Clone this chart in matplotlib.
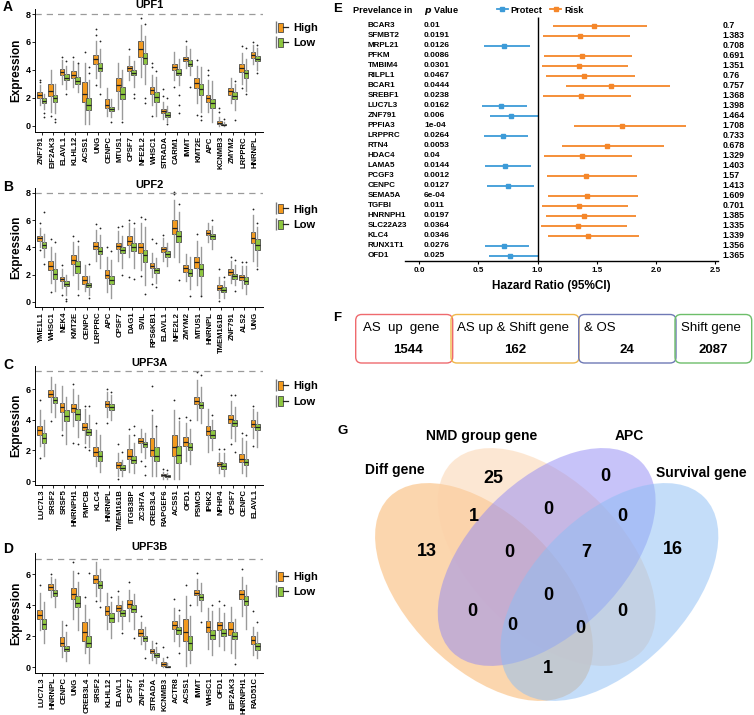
import numpy as np
import matplotlib
matplotlib.use("Agg")
import matplotlib.pyplot as plt
from matplotlib.patches import Patch, Ellipse, FancyBboxPatch
from matplotlib.lines import Line2D
from matplotlib.legend_handler import HandlerTuple

plt.rcParams['font.family'] = ['Liberation Sans', 'DejaVu Sans']

# ---------------- panel A-D data: (whislo, q1, med, q3, whishi) ----------------
genes_A = ["ZNF791", "EIF2AK3", "ELAVL1", "KLHL12", "ACSS1", "UNG", "CENPC", "MTUS1", "CPSF7", "NFE2L2",
           "WHSC1", "STRADA", "CARM1", "IMMT", "KMT2E", "APC", "KCNMB3", "ZMYM2", "LRPPRC", "HNRNPL"]
high_A = [(1.5, 2.0, 2.2, 2.4, 2.9), (1.0, 2.1, 2.5, 3.0, 4.0), (3.0, 3.65, 3.85, 4.05, 4.7), (2.8, 3.4, 3.65, 3.95, 4.6),
          (0.1, 1.7, 2.3, 3.1, 4.5), (3.4, 4.4, 4.75, 5.1, 6.1), (0.7, 1.3, 1.5, 1.9, 2.7), (1.2, 2.5, 2.9, 3.4, 4.5),
          (3.3, 3.9, 4.1, 4.3, 5.0), (3.5, 4.9, 5.5, 6.1, 7.2), (1.5, 2.3, 2.55, 2.8, 3.6), (0.5, 0.9, 1.05, 1.2, 1.7),
          (3.3, 4.0, 4.2, 4.45, 5.3), (4.1, 4.6, 4.75, 4.95, 5.7), (1.6, 2.7, 3.05, 3.4, 4.3), (1.0, 1.7, 1.95, 2.2, 3.3),
          (0.0, 0.1, 0.2, 0.35, 0.6), (1.6, 2.2, 2.45, 2.7, 3.4), (3.0, 3.85, 4.1, 4.4, 5.2), (4.4, 4.85, 5.05, 5.25, 5.8)]
low_A = [(1.2, 1.65, 1.8, 1.95, 2.3), (0.9, 1.7, 2.0, 2.2, 3.0), (2.6, 3.3, 3.45, 3.7, 4.3), (2.4, 3.0, 3.2, 3.5, 4.4),
         (0.1, 1.1, 1.5, 2.0, 3.3), (2.8, 3.9, 4.15, 4.5, 5.5), (0.6, 1.05, 1.2, 1.35, 1.9), (0.5, 1.9, 2.3, 2.8, 4.0),
         (2.8, 3.6, 3.8, 4.0, 4.6), (3.0, 4.4, 4.85, 5.2, 6.4), (0.7, 1.7, 2.05, 2.4, 3.5), (0.3, 0.65, 0.8, 0.95, 1.4),
         (2.9, 3.6, 3.8, 4.05, 4.8), (3.6, 4.3, 4.45, 4.7, 5.5), (1.0, 2.2, 2.6, 3.0, 4.2), (0.3, 1.3, 1.6, 1.9, 3.2),
         (0.0, 0.02, 0.05, 0.1, 0.3), (1.1, 1.9, 2.15, 2.4, 3.0), (2.5, 3.4, 3.75, 4.0, 4.8), (4.0, 4.6, 4.8, 5.0, 5.6)]
fl_high_A = [[3.1, 3.3], [0.7], [4.9], [4.9], [5.3], [6.5, 6.9, 2.9], [], [], [5.5], [7.7], [0.7, 4.2, 4.5], [2.1, 2.6],
             [2.8], [6.1], [0.8, 4.7], [3.6, 4.0], [1.0, 1.3], [], [2.7, 5.7], [6.0]]
fl_low_A = [[0.6, 0.9], [0.3, 0.5], [2.3, 4.6], [4.5], [3.8, 4.2], [2.3, 6.1], [0.3], [0.3], [2.0, 2.3], [1.6, 2.0, 7.3],
            [3.9], [0.15, 2.0], [0.9, 1.5, 2.2], [2.8], [0.4, 0.7], [], [0.5], [0.4, 3.2], [2.3, 5.6], [3.8, 5.8]]

genes_B = ["YME1L1", "WHSC1", "NEK4", "KMT2E", "CENPC", "LRPPRC", "APC", "CPSF7", "DAG1", "SVIL",
           "RPS6KB1", "ELAVL1", "NFE2L2", "ZMYM2", "MTUS1", "HNRNPL", "TMEM161B", "ZNF791", "ALS2", "UNG"]
high_B = [(4.0, 4.5, 4.65, 4.8, 5.4), (1.4, 2.3, 2.65, 3.0, 4.0), (1.0, 1.5, 1.65, 1.85, 2.4), (2.0, 2.8, 3.1, 3.45, 4.4),
          (0.8, 1.3, 1.6, 1.9, 2.7), (3.0, 3.9, 4.1, 4.4, 5.3), (0.7, 1.75, 2.0, 2.3, 3.3), (3.0, 3.9, 4.1, 4.35, 5.2),
          (3.3, 4.2, 4.45, 4.8, 5.8), (2.3, 3.6, 4.0, 4.3, 5.8), (1.8, 2.5, 2.65, 2.85, 3.6), (3.0, 3.65, 3.85, 4.0, 4.7),
          (3.3, 5.0, 5.45, 6.0, 7.5), (1.5, 2.2, 2.45, 2.7, 3.5), (1.2, 2.5, 2.9, 3.3, 4.5), (4.4, 4.9, 5.05, 5.25, 5.8),
          (0.3, 0.85, 1.0, 1.2, 1.8), (1.4, 2.0, 2.2, 2.4, 3.0), (1.0, 1.6, 1.8, 2.0, 2.6), (3.0, 4.3, 4.7, 5.1, 6.4)]
low_B = [(3.3, 3.95, 4.15, 4.4, 5.0), (0.8, 1.7, 2.05, 2.4, 3.6), (0.5, 1.15, 1.3, 1.5, 2.0), (0.9, 2.1, 2.6, 3.0, 4.1),
         (0.5, 1.05, 1.2, 1.4, 1.9), (2.5, 3.5, 3.75, 4.0, 4.9), (0.3, 1.3, 1.6, 1.9, 3.1), (2.5, 3.55, 3.8, 4.0, 4.8),
         (2.5, 3.7, 4.05, 4.3, 5.4), (1.2, 2.9, 3.45, 3.8, 5.5), (1.4, 2.1, 2.3, 2.5, 3.2), (2.6, 3.3, 3.5, 3.7, 4.3),
         (2.9, 4.4, 4.85, 5.2, 6.6), (0.9, 1.9, 2.1, 2.4, 3.3), (0.5, 1.9, 2.4, 2.8, 4.0), (3.9, 4.6, 4.8, 5.0, 5.6),
         (0.3, 0.7, 0.85, 1.05, 1.5), (1.2, 1.7, 1.9, 2.05, 2.7), (0.6, 1.3, 1.55, 1.8, 2.6), (2.6, 3.8, 4.2, 4.6, 5.5)]
fl_high_B = [[3.8, 5.8], [0.7, 4.6], [0.5, 2.7], [4.8], [], [5.7], [4.0], [5.5], [1.8, 6.0], [1.9, 6.2], [1.3, 4.6],
             [4.9], [7.9, 8.1], [], [5.0], [], [0.05, 2.4], [3.3], [2.9], [6.8]]
fl_low_B = [[2.8, 6.6], [4.4], [0.05, 0.2], [0.5, 4.5], [0.3, 2.8], [5.4], [3.7], [2.0, 5.6], [1.7, 5.8], [0.6, 6.1],
            [1.1, 4.3], [], [1.6, 7.2], [0.4], [0.4], [6.0], [1.8], [0.8, 3.1], [2.9], [2.4, 5.8]]

genes_C = ["LUC7L3", "SRSF2", "SRSF5", "HNRNPH1", "PMPCB", "KLC4", "HNRNPL", "TMEM161B", "ITGB3BP", "ZC3H7A",
           "CREB3L4", "RAPGEF6", "ACSS1", "OFD1", "PSMC5", "IP6K2", "NPHP4", "CPSF7", "CENPC", "ELAVL1"]
high_C = [(2.3, 3.0, 3.35, 3.6, 4.6), (4.5, 5.45, 5.7, 5.95, 6.8), (3.3, 4.5, 4.8, 5.1, 6.2), (3.6, 4.5, 4.75, 5.0, 6.0),
          (2.5, 3.3, 3.5, 3.8, 4.7), (1.0, 1.65, 1.9, 2.2, 3.3), (4.2, 4.85, 5.0, 5.2, 5.8), (0.3, 0.85, 1.05, 1.25, 1.8),
          (0.6, 1.45, 1.65, 2.1, 3.0), (1.9, 2.45, 2.6, 2.8, 3.4), (0.3, 1.6, 2.0, 2.8, 4.3), (0.15, 0.3, 0.38, 0.45, 0.6),
          (0.1, 1.6, 2.2, 3.0, 4.6), (1.3, 2.3, 2.55, 2.9, 3.8), (4.0, 5.0, 5.25, 5.5, 6.6), (1.9, 3.0, 3.25, 3.6, 4.7),
          (0.5, 0.95, 1.1, 1.25, 1.8), (2.8, 3.8, 4.05, 4.3, 5.2), (0.5, 1.25, 1.45, 1.75, 2.8), (2.8, 3.55, 3.75, 3.95, 4.7)]
low_C = [(1.6, 2.5, 2.8, 3.1, 4.0), (4.2, 5.1, 5.3, 5.5, 6.3), (2.4, 3.9, 4.25, 4.6, 5.5), (2.9, 4.0, 4.35, 4.7, 5.6),
         (2.2, 3.0, 3.2, 3.4, 4.3), (0.6, 1.3, 1.6, 1.95, 3.0), (4.0, 4.6, 4.8, 5.0, 5.6), (0.3, 0.7, 0.85, 1.05, 1.4),
         (0.5, 1.15, 1.35, 1.65, 2.5), (1.5, 2.2, 2.4, 2.55, 3.1), (0.3, 1.3, 1.6, 2.2, 3.5), (0.15, 0.25, 0.32, 0.4, 0.55),
         (0.1, 1.2, 1.7, 2.3, 3.9), (1.1, 2.0, 2.25, 2.5, 3.4), (3.8, 4.75, 4.95, 5.15, 6.1), (2.0, 2.8, 3.0, 3.3, 4.0),
         (0.3, 0.8, 0.95, 1.15, 1.8), (2.6, 3.6, 3.8, 4.0, 4.8), (0.3, 1.05, 1.25, 1.45, 2.6), (2.2, 3.3, 3.55, 3.75, 4.5)]
fl_high_C = [[1.5, 5.3], [3.9], [3.0], [2.5, 6.3], [2.2, 4.9], [3.8], [3.8, 6.0], [0.1, 2.4], [3.4], [1.3],
             [4.6, 6.2], [0.8], [5.3], [4.2], [7.1], [], [2.1], [2.4, 5.6], [3.1], [2.3, 4.9]]
fl_low_C = [[], [], [], [2.4], [2.0, 4.9], [], [5.8], [1.9], [3.0, 3.6], [0.4, 1.0], [3.6], [0.7], [4.1], [4.0],
            [6.9], [4.3], [2.1], [1.9, 5.6], [3.0], []]

genes_D = ["LUC7L3", "HNRNPL", "CENPC", "UNG", "CREB3L4", "SRSF2", "KLHL12", "ELAVL1", "CPSF7", "ZNF791",
           "STRADA", "KCNMB3", "ACTR8", "ACSS1", "IMMT", "WHSC1", "OFD1", "EIF2AK3", "HNRNPH1", "RAD51C"]
high_D = [(2.4, 3.1, 3.4, 3.7, 4.8), (4.5, 4.95, 5.15, 5.35, 5.8), (0.7, 1.35, 1.6, 1.95, 3.0), (3.1, 4.4, 4.75, 5.1, 6.2),
          (0.9, 1.7, 2.3, 2.9, 4.0), (4.6, 5.45, 5.7, 5.95, 6.8), (2.5, 3.4, 3.65, 3.95, 4.8), (3.0, 3.6, 3.85, 4.0, 4.6),
          (3.0, 3.8, 4.05, 4.35, 5.0), (1.5, 2.0, 2.2, 2.45, 2.9), (0.5, 0.9, 1.05, 1.2, 1.7), (0.0, 0.1, 0.22, 0.35, 0.6),
          (1.7, 2.5, 2.75, 3.0, 3.8), (0.1, 1.7, 2.3, 3.1, 4.6), (4.0, 4.65, 4.8, 5.0, 5.7), (1.2, 2.3, 2.6, 3.0, 3.8),
          (1.4, 2.4, 2.7, 2.95, 3.8), (0.9, 2.1, 2.45, 2.9, 3.9), (3.3, 4.4, 4.75, 5.0, 5.8), (0.8, 1.5, 1.75, 2.0, 2.6)]
low_D = [(1.6, 2.5, 2.8, 3.1, 4.2), (3.9, 4.6, 4.8, 4.95, 5.7), (0.4, 1.05, 1.2, 1.4, 2.3), (2.4, 3.9, 4.15, 4.6, 5.5),
         (0.3, 1.3, 1.55, 2.0, 3.1), (4.3, 5.1, 5.3, 5.55, 6.3), (1.9, 2.95, 3.2, 3.5, 4.2), (2.5, 3.3, 3.5, 3.7, 4.3),
         (2.5, 3.55, 3.75, 4.0, 4.7), (1.2, 1.7, 1.9, 2.05, 2.6), (0.3, 0.7, 0.8, 0.95, 1.3), (0.0, 0.02, 0.05, 0.12, 0.3),
         (1.4, 2.15, 2.4, 2.6, 3.4), (0.3, 1.1, 1.6, 2.0, 3.3), (3.6, 4.35, 4.5, 4.7, 5.4), (0.8, 1.8, 2.1, 2.4, 3.6),
         (1.1, 2.0, 2.2, 2.45, 3.5), (0.6, 1.8, 2.0, 2.25, 3.1), (2.5, 4.0, 4.3, 4.6, 5.3), (0.6, 1.15, 1.35, 1.55, 2.3)]
fl_high_D = [[5.3], [6.0], [], [6.8], [4.5], [4.3], [], [4.9], [5.5], [3.3], [], [1.3], [4.4], [5.3], [6.1], [],
             [4.3], [], [6.3], [3.6]]
fl_low_D = [[], [], [2.7], [6.1], [6.1], [3.9], [4.5], [2.2], [1.9], [0.6], [1.6], [0.7], [0.9, 3.7], [4.0], [2.9],
            [4.0], [4.0], [0.2], [], [2.9]]

# ---------------- panel E data ----------------
genes_E = ["BCAR3", "SFMBT2", "MRPL21", "PFKM", "TMBIM4", "RILPL1", "BCAR1", "SREBF1", "LUC7L3", "ZNF791", "PPFIA3",
           "LRPPRC", "RTN4", "HDAC4", "LAMA5", "PCGF3", "CENPC", "SEMA5A", "TGFBI", "HNRNPH1", "SLC22A23", "KLC4",
           "RUNX1T1", "OFD1"]
hr_E = [1.477, 1.361, 0.716, 1.378, 1.347, 1.392, 1.618, 1.367, 0.693, 0.775, 1.716, 0.705, 1.584,
        1.378, 0.722, 1.412, 0.750, 1.418, 1.350, 1.395, 1.344, 1.429, 0.716, 0.769]
lo_E = [1.133, 1.043, 0.550, 1.057, 1.037, 1.068, 1.237, 1.048, 0.533, 0.598, 1.311, 0.544, 1.209,
        1.054, 0.558, 1.077, 0.569, 1.085, 1.034, 1.068, 1.026, 1.091, 0.552, 0.592]
hi_E = [1.928, 1.781, 0.936, 1.801, 1.761, 1.824, 2.120, 1.790, 0.908, 1.015, 2.255, 0.922, 2.072,
        1.801, 0.941, 1.843, 0.972, 1.852, 1.767, 1.832, 1.753, 1.860, 0.930, 1.015]
p_E = ["0.01", "0.0191", "0.0126", "0.0086", "0.0301", "0.0467", "0.0444", "0.0238", "0.0162", "0.006", "1e-04",
       "0.0264", "0.0053", "0.04", "0.0144", "0.0012", "0.0127", "6e-04", "0.011", "0.0197", "0.0364", "0.0346",
       "0.0276", "0.025"]
prev_E = ["0.7", "1.383", "0.708", "0.691", "1.351", "0.76", "0.757", "1.368", "1.398", "1.464", "1.708", "0.733",
          "0.678", "1.329", "1.403", "1.57", "1.413", "1.609", "0.701", "1.385", "1.335", "1.339", "1.356", "1.365"]

# ---------------- panel F / G data ----------------
f_labels = ["AS  up  gene", "AS up & Shift gene", "& OS", "Shift gene"]
f_counts = ["1544", "162", "24", "2087"]
venn_sets = ["Diff gene", "NMD group gene", "APC", "Survival gene"]
venn_counts = [25, 0, 1, 0, 0, 13, 0, 7, 16, 0, 0, 0, 0, 0, 1]

W, H = 754, 715
fig = plt.figure(figsize=(W / 100, H / 100), dpi=100)
fig.patch.set_facecolor("white")


def add_ax(x0, y0, x1, y1):
    return fig.add_axes([x0 / W, 1 - y1 / H, (x1 - x0) / W, (y1 - y0) / H])


def ftext(x, y, s, **kw):
    fig.text(x / W, 1 - y / H, s, **kw)


C_HIGH = "#F39A1E"
C_LOW = "#8DC63F"


def box_panel(genes, high, low, fl_high, fl_low, top, bottom, ylim, dash_y, yticks, title, title_y, letter, leg_y):
    ax = add_ax(35, top, 263, bottom)
    pos = np.arange(1, len(genes) + 1)
    for rows, fls, off, col in [(high, fl_high, -0.19, C_HIGH), (low, fl_low, 0.19, C_LOW)]:
        st = [dict(whislo=r[0], q1=r[1], med=r[2], q3=r[3], whishi=r[4], fliers=f) for r, f in zip(rows, fls)]
        ax.bxp(st, positions=pos + off, widths=0.42, patch_artist=True, showcaps=False,
               boxprops=dict(facecolor=col, edgecolor="#4a4a4a", linewidth=0.6),
               medianprops=dict(color="#222222", linewidth=0.9),
               whiskerprops=dict(color="#9a9a9a", linewidth=1.0),
               flierprops=dict(marker="o", markersize=1.3, markerfacecolor="#222222", markeredgecolor="none"))
    ax.axhline(dash_y, color="#9b9b9b", lw=0.9, ls=(0, (5, 4)))
    ax.set_xlim(0.4, len(genes) + 0.7)
    ax.set_ylim(*ylim)
    ax.set_xticks(pos)
    ax.set_xticklabels(genes, rotation=90, fontsize=5.6, fontweight="bold")
    ax.set_yticks(yticks)
    ax.set_yticklabels([str(t) for t in yticks], fontsize=6.5, fontweight="bold")
    ax.tick_params(length=2, width=0.6, pad=1.2)
    for s in ["top", "right"]:
        ax.spines[s].set_visible(False)
    for s in ["left", "bottom"]:
        ax.spines[s].set_linewidth(0.7)
    ax.set_ylabel("Expression", fontsize=8.5, fontweight="bold")
    ax.yaxis.set_label_coords(-0.054, 0.5)
    ftext(150, title_y, title, ha="center", va="center", fontsize=8, fontweight="bold")
    ftext(3, title_y + 2, letter, ha="left", va="center", fontsize=10, fontweight="bold")
    hh = (Line2D([], [], marker="|", ls="none", color="#777777", markersize=9),
          Patch(facecolor=C_HIGH, edgecolor="#4a4a4a", lw=0.6), Line2D([], [], color="#222222", lw=0.9))
    hl = (Line2D([], [], marker="|", ls="none", color="#777777", markersize=9),
          Patch(facecolor=C_LOW, edgecolor="#4a4a4a", lw=0.6), Line2D([], [], color="#222222", lw=0.9))
    fig.legend([hh, hl], ["High", "Low"], handler_map={tuple: HandlerTuple(ndivide=None)},
               loc="upper left", bbox_to_anchor=(268 / W, 1 - (leg_y - 8) / H), frameon=False,
               prop={"weight": "bold", "size": 8}, handlelength=1.3, handleheight=0.9,
               labelspacing=0.45, borderpad=0, handletextpad=0.5)
    return ax


box_panel(genes_A, high_A, low_A, fl_high_A, fl_low_A, 9, 131.7, (-0.43, 8.36), 8, [0, 2, 4, 6, 8],
          "UPF1", 5, "A", 25)
box_panel(genes_B, high_B, low_B, fl_high_B, fl_low_B, 188, 307.3, (-0.41, 8.36), 8, [0, 2, 4, 6, 8],
          "UPF2", 185, "B", 206.7)
box_panel(genes_C, high_C, low_C, fl_high_C, fl_low_C, 366, 485, (-0.26, 7.5), 7.17, [0, 2, 4, 6],
          "UPF3A", 362.7, "C", 383.3)
box_panel(genes_D, high_D, low_D, fl_high_D, fl_low_D, 553, 673, (-0.36, 7.36), 7.0, [0, 2, 4, 6],
          "UPF3B", 546.7, "D", 574)

# ---------------- E: forest plot ----------------
axe = add_ax(350, 0, 752, 260.7)
axe.set_xlim(-0.586, 2.812)
axe.set_ylim(23.5, -2.57)
C_PRO, C_RISK = "#3D9BD8", "#F5872A"
rows = np.arange(len(genes_E))
for i in rows:
    c = C_PRO if hr_E[i] < 1 else C_RISK
    axe.plot([lo_E[i], hi_E[i]], [i, i], color=c, lw=1.3, solid_capstyle="butt")
    axe.plot(hr_E[i], i, marker="s", ms=2.6, color=c, mec=c)
    axe.text(-0.436, i, genes_E[i], ha="left", va="center", fontsize=5.8, fontweight="bold")
    axe.text(0.04, i, p_E[i], ha="left", va="center", fontsize=6, fontweight="bold")
    axe.text(2.566, i, prev_E[i], ha="left", va="center", fontsize=6.3, fontweight="bold")
axe.vlines(1, -0.9, 23.5, color="black", lw=1)
axe.text(-0.562, -1.5, "Prevelance in", ha="left", va="center", fontsize=6.6, fontweight="bold")
axe.text(0.04, -1.5, r"$\bfit{p}$ Value", ha="left", va="center", fontsize=6.6, fontweight="bold")
for s in ["top", "right", "left"]:
    axe.spines[s].set_visible(False)
axe.spines["bottom"].set_bounds(-0.12, 2.524)
axe.spines["bottom"].set_linewidth(1)
axe.set_yticks([])
axe.set_xticks([0, 0.5, 1.0, 1.5, 2.0, 2.5])
axe.set_xticklabels(["0.0", "0.5", "1.0", "1.5", "2.0", "2.5"], fontsize=5.8, fontweight="bold")
axe.tick_params(axis="x", length=2.5, width=0.8, pad=2)
axe.set_xlabel("Hazard Ratio (95%CI)", fontsize=8.5, fontweight="bold", labelpad=4)
axe.legend([Line2D([], [], color=C_PRO, lw=1.3, marker="s", ms=2.6), Line2D([], [], color=C_RISK, lw=1.3, marker="s", ms=2.6)],
           ["Protect", "Risk"], loc="upper left", bbox_to_anchor=(492 / W, 1 - 1 / H), bbox_transform=fig.transFigure,
           ncol=2, frameon=False, prop={"weight": "bold", "size": 6.6}, handlelength=1.2, handletextpad=0.3,
           columnspacing=0.9, borderpad=0)
ftext(333, 9, "E", ha="left", va="center", fontsize=9.5, fontweight="bold")

# ---------------- F: boxes ----------------
axf = add_ax(320, 290, 754, 375)
axf.set_xlim(320, 754)
axf.set_ylim(375, 290)
axf.axis("off")
f_boxes = [(355.7, 452.7, "#EF6A6E"), (451, 579, "#F0B84A"), (578.7, 676, "#6F79B5"), (675, 751.7, "#6DBE6A")]
f_text_x = [363, 457.3, 584, 681]
for (x0, x1, ec), lab, num, tx in zip(f_boxes, f_labels, f_counts, f_text_x):
    axf.add_patch(FancyBboxPatch((x0, 314.5), x1 - x0, 48.5, boxstyle="round,pad=0,rounding_size=6",
                                 facecolor="none", edgecolor=ec, lw=1.0))
    axf.text(tx, 327.7, lab, ha="left", va="center", fontsize=9.5)
    axf.text((x0 + x1) / 2 + (4 if num == "1544" else 0), 350, num, ha="center", va="center", fontsize=9.5,
             fontweight="bold")
ftext(333, 318, "F", ha="left", va="center", fontsize=9.5, fontweight="bold")

# ---------------- G: Venn ----------------
axg = add_ax(320, 380, 754, 715)
axg.set_xlim(320, 754)
axg.set_ylim(715, 380)
axg.axis("off")
ell = [((484, 592), 45, "#F9AF5F"), ((546.7, 557), 45, "#FBD1A9"), ((546.7, 557), 135, "#9189F5"),
       ((609.4, 592), 135, "#8BBDF5")]
for (c, ang, col) in ell:
    axg.add_patch(Ellipse(c, 2 * 134, 2 * 76, angle=ang, facecolor=col, alpha=0.5, edgecolor="none"))
lab_pos = [(395, 470), (481.7, 436), (629.3, 436), (701, 473)]
for (x, y), s in zip(lab_pos, venn_sets):
    axg.text(x, y, s, ha="center", va="center", fontsize=10, fontweight="bold")
cnt_pos = [(493.3, 478.3), (605, 476.7), (474, 516.7), (548.3, 509.3), (622.7, 516.7), (427.3, 551.7),
           (509.3, 552.7), (586.7, 552.7), (672.7, 550), (548.3, 595), (472.7, 611), (622.7, 611),
           (512.7, 625), (580.7, 628.3), (548.3, 668.3)]
for (x, y), n in zip(cnt_pos, venn_counts):
    axg.text(x, y, str(n), ha="center", va="center", fontsize=13, fontweight="bold")
ftext(337, 431, "G", ha="left", va="center", fontsize=9.5, fontweight="bold")

fig.savefig("out.png", dpi=100)
plt.close(fig)
